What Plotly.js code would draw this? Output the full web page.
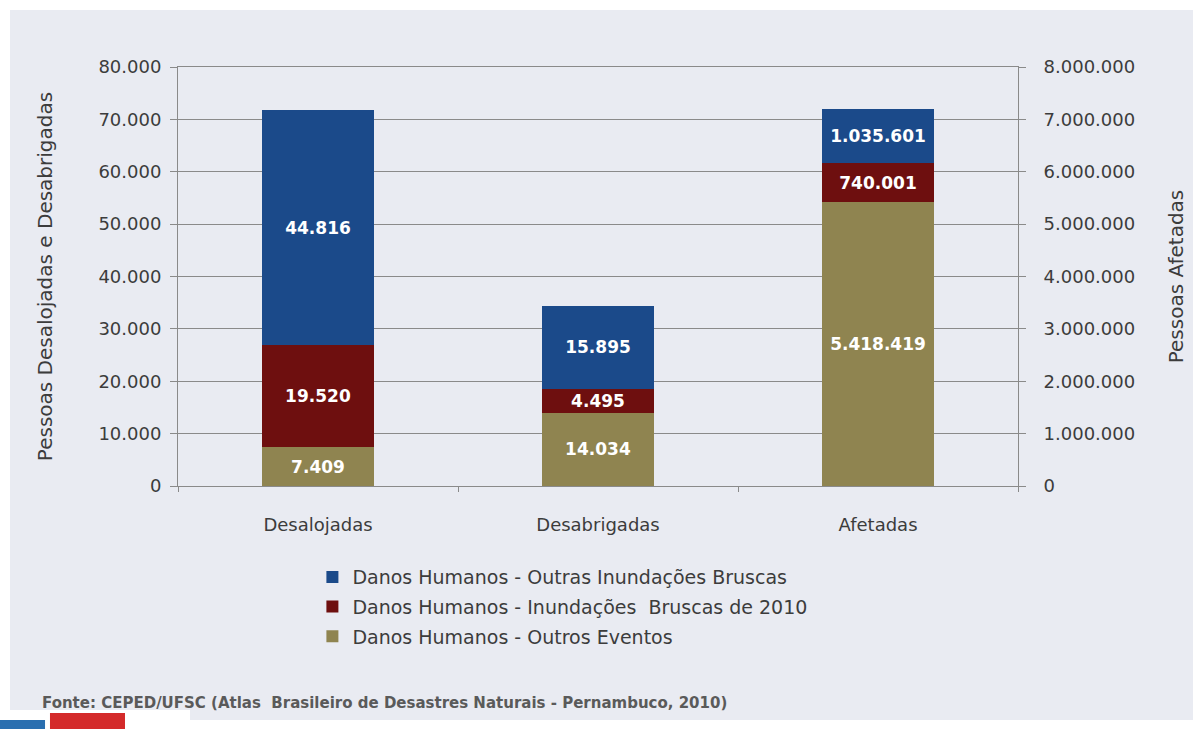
<!DOCTYPE html>
<html>
<head>
<meta charset="utf-8">
<script src="https://cdn.plot.ly/plotly-3.0.1.min.js"></script>
<style>
  html, body { margin: 0; padding: 0; background: #ffffff; }
  #chart { position: absolute; left: 0; top: 0; width: 1193px; height: 729px; }
</style>
</head>
<body>
<div id="chart"></div>
<script>
// Categories
const categoriesLeft = ["Desalojadas", "Desabrigadas"];
const categoriesRight = ["Afetadas"];
const allCategories = ["Desalojadas", "Desabrigadas", "Afetadas"];

// Series names (stack order: bottom to top)
const seriesNames = [
  "Danos Humanos - Outros Eventos",
  "Danos Humanos - Inundações  Bruscas de 2010",
  "Danos Humanos - Outras Inundações Bruscas"
];
// Legend rank (top of legend first)
const legendRanks = [3, 2, 1];

// Values (left axis: Desalojadas, Desabrigadas)
const outrosEventosLeft = [7409, 14034];
const inund2010Left = [19520, 4495];
const outrasInundLeft = [44816, 15895];

// Values (right axis: Afetadas)
const outrosEventosRight = [5418419];
const inund2010Right = [740001];
const outrasInundRight = [1035601];

// Axis ranges / ticks
const leftRange = [0, 80000];
const leftDtick = 10000;
const rightRange = [0, 8000000];
const rightDtick = 1000000;

const colors = ["#8f8450", "#6e0f0f", "#1b4a8a"];
const baseFont = "'DejaVu Sans', 'Open Sans', sans-serif";
const textColor = "#3c3c3c";
const gridColor = "#8a8a8a";

const leftVals = [outrosEventosLeft, inund2010Left, outrasInundLeft];
const rightVals = [outrosEventosRight, inund2010Right, outrasInundRight];

const labelFont = { color: "#ffffff", size: 17, family: baseFont, weight: "bold" };

const traces = [];
for (let i = 0; i < 3; i++) {
  traces.push({
    type: "bar",
    name: seriesNames[i],
    x: categoriesLeft,
    y: leftVals[i],
    yaxis: "y",
    marker: { color: colors[i] },
    texttemplate: "%{y:,d}",
    textposition: "inside",
    insidetextanchor: "middle",
    constraintext: "none",
    textfont: labelFont,
    legendrank: legendRanks[i],
    legendgroup: "g" + legendRanks[i],
    hoverinfo: "skip"
  });
}
for (let i = 0; i < 3; i++) {
  traces.push({
    type: "bar",
    name: seriesNames[i],
    x: categoriesRight,
    y: rightVals[i],
    yaxis: "y2",
    marker: { color: colors[i] },
    texttemplate: "%{y:,d}",
    textposition: "inside",
    insidetextanchor: "middle",
    constraintext: "none",
    textfont: labelFont,
    legendrank: legendRanks[i],
    legendgroup: "g" + legendRanks[i],
    showlegend: false,
    hoverinfo: "skip"
  });
}

const layout = {
  width: 1193,
  height: 729,
  paper_bgcolor: "#ffffff",
  plot_bgcolor: "rgba(0,0,0,0)",
  separators: ",.",
  barmode: "stack",
  bargap: 0.6,
  margin: { l: 178, r: 175, t: 67, b: 243 },
  font: { family: baseFont, color: textColor, size: 18 },
  showlegend: true,
  legend: {
    x: 0.16, y: -0.172, xanchor: "left", yanchor: "top",
    traceorder: "grouped",
    tracegroupgap: 2,
    bgcolor: "rgba(0,0,0,0)",
    font: { size: 19, color: textColor, family: baseFont },
    itemwidth: 30
  },
  xaxis: {
    categoryorder: "array",
    categoryarray: allCategories,
    showline: true,
    linecolor: gridColor,
    linewidth: 1,
    mirror: true,
    ticks: "outside",
    tickson: "boundaries",
    ticklen: 5,
    tickcolor: gridColor,
    ticklabelstandoff: 22,
    tickfont: { size: 18, color: textColor },
    showgrid: false,
    zeroline: false,
    fixedrange: true
  },
  yaxis: {
    range: leftRange,
    dtick: leftDtick,
    tickformat: ",d",
    showline: true,
    linecolor: gridColor,
    linewidth: 1,
    ticks: "outside",
    ticklen: 7,
    tickcolor: gridColor,
    ticklabelstandoff: 5,
    gridcolor: gridColor,
    gridwidth: 1,
    zeroline: false,
    tickfont: { size: 18, color: textColor },
    title: { text: "Pessoas Desalojadas e Desabrigadas", font: { size: 20, color: textColor }, standoff: 40 },
    fixedrange: true
  },
  yaxis2: {
    overlaying: "y",
    side: "right",
    range: rightRange,
    dtick: rightDtick,
    tickformat: ",d",
    showline: true,
    linecolor: gridColor,
    linewidth: 1,
    ticks: "outside",
    ticklen: 7,
    tickcolor: gridColor,
    ticklabelstandoff: 14,
    showgrid: false,
    zeroline: false,
    tickfont: { size: 18, color: textColor },
    title: { text: "Pessoas Afetadas", font: { size: 20, color: textColor }, standoff: 34 },
    fixedrange: true
  },
  shapes: [
    // light panel background
    { type: "rect", xref: "paper", yref: "paper", layer: "below",
      x0: -0.2, x1: 1.2083, y0: -0.5585, y1: 1.136,
      fillcolor: "#e9ebf2", line: { width: 0 } },
    // bottom-left logo fragment
    { type: "rect", xref: "paper", yref: "paper", layer: "above",
      x0: -0.2119, x1: 0.0143, y0: -0.5943, y1: -0.5346,
      fillcolor: "#ffffff", line: { width: 0 } },
    { type: "rect", xref: "paper", yref: "paper", layer: "above",
      x0: -0.2119, x1: -0.1583, y0: -0.5943, y1: -0.5585,
      fillcolor: "#2a6fb0", line: { width: 0 } },
    { type: "rect", xref: "paper", yref: "paper", layer: "above",
      x0: -0.1524, x1: -0.0631, y0: -0.5943, y1: -0.5418,
      fillcolor: "#d42a2a", line: { width: 0 } }
  ],
  annotations: [
    {
      xref: "paper", yref: "paper",
      x: -0.164, y: -0.519,
      xanchor: "left", yanchor: "middle",
      text: "Fonte: CEPED/UFSC (Atlas  Brasileiro de Desastres Naturais - Pernambuco, 2010)",
      showarrow: false,
      font: { size: 15, color: "#5a5a5a", family: baseFont, weight: "bold" }
    }
  ]
};

Plotly.newPlot("chart", traces, layout, { displayModeBar: false, staticPlot: true });
</script>
</body>
</html>
